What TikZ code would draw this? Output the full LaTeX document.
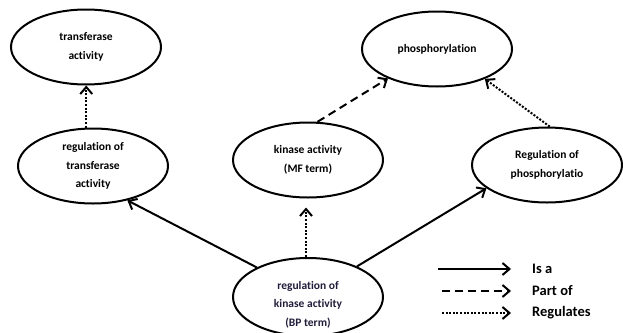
\documentclass[tikz,border=0pt]{standalone}
\usepackage{fontspec}
\setmainfont[Ligatures={NoCommon}]{Carlito}
\usetikzlibrary{arrows.meta,shapes.geometric}
\definecolor{bptext}{HTML}{221C3A}
\begin{document}
\begin{tikzpicture}[x=1pt,y=-1pt,
  term/.style={draw, line width=2pt, ellipse, minimum width=150pt, minimum height=75pt, inner sep=0pt,
     align=center, font=\bfseries\fontsize{11.5}{18.5}\selectfont},
  isa/.style={line width=2pt, -{Straight Barb[length=7pt,width=12pt,line width=2pt]}},
  partof/.style={isa, dash pattern=on 8pt off 5pt},
  regs/.style={isa, dash pattern=on 2pt off 1.6pt},
  legtext/.style={anchor=west, font=\bfseries\fontsize{14.5}{16}\selectfont, inner sep=0pt}]
\useasboundingbox (0,0) rectangle (623,332);
\node[term] (ta) at (86,47) {transferase\\activity};
\node[term] (rta) at (93,166) {regulation of\\transferase\\activity};
\node[term] (ka) at (308,160) {kinase activity\\(MF term)};
\node[term] (ph) at (437,49) {phosphorylation};
\node[term] (rp) at (547,165) {Regulation of\\phosphorylatio};
\node[term, minimum height=78pt, text=bptext] (rka) at (308,297)
  {\raisebox{-10pt}[0pt][0pt]{\begin{tabular}{@{}c@{}}regulation of\\kinase activity\\(BP term)\end{tabular}}};

\draw[regs] (rta.100) -- (rta.100 |- ta.south);
\draw[partof] (ka.76) -- (ph.211);
\draw[regs] (rp.86) -- (ph.328);
\draw[isa] (rka.150) -- (rta.315);
\draw[regs, shorten >=9pt] ([xshift=-2pt]rka.north) -- ([xshift=-2pt]rka.north |- ka.south);
\draw[isa] (rka.32) -- (rp.201);

\coordinate (l1a) at (438,269); \coordinate (l1b) at (511,269);
\coordinate (l2a) at (442,291); \coordinate (l2b) at (511,291);
\coordinate (l3a) at (442,313); \coordinate (l3b) at (511,313);
\draw[isa] (l1a) -- (l1b);
\draw[partof] (l2a) -- (l2b);
\draw[regs] (l3a) -- (l3b);
\node[legtext] (t1) at (532,269) {Is a};
\node[legtext] (t2) at (532,291) {Part of};
\node[legtext] (t3) at (532,313) {Regulates};
\end{tikzpicture}
\end{document}
